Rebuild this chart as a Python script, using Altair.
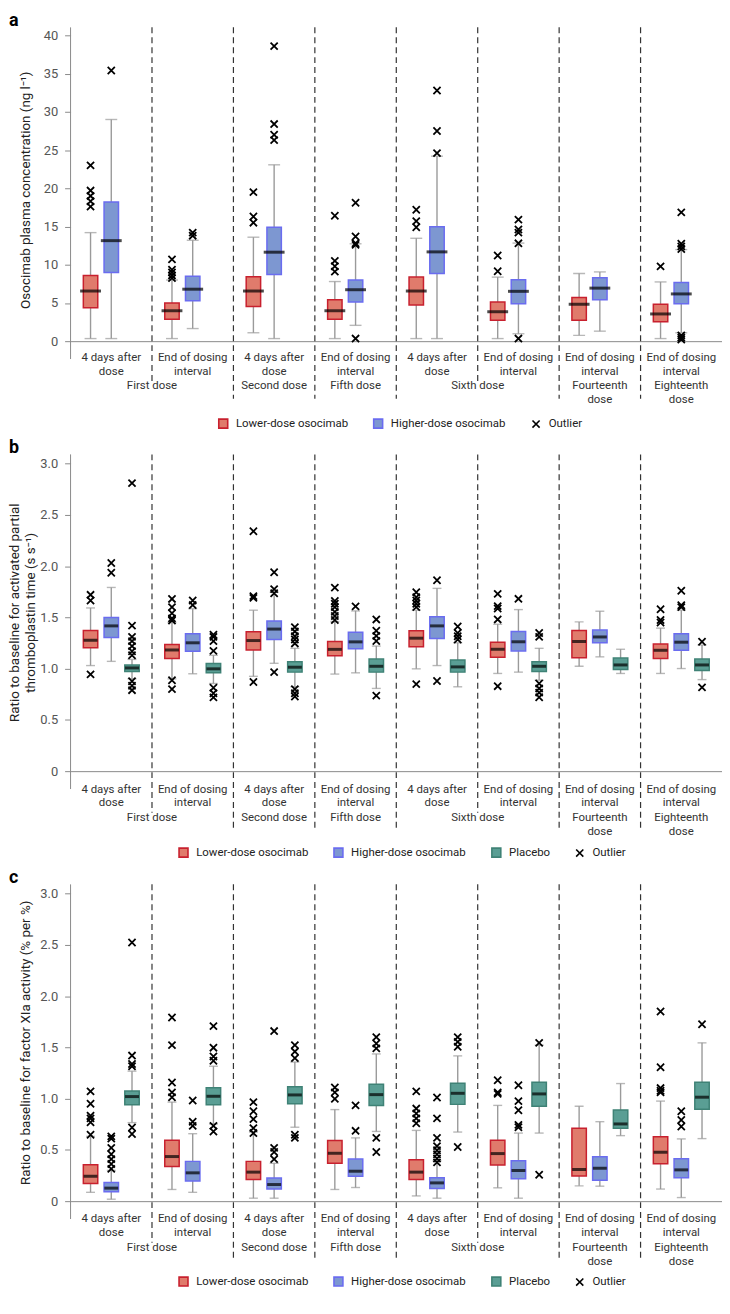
import altair as alt
import pandas as pd

LOW = "Lower-dose osocimab"
HIGH = "Higher-dose osocimab"
PLA = "Placebo"
OUT = "Outlier"

groups = [0, 1, 2, 3, 4, 5, 6, 7]
time_labels = ["4 days after|dose", "End of dosing|interval", "4 days after|dose", "End of dosing|interval",
               "4 days after|dose", "End of dosing|interval", "End of dosing|interval", "End of dosing|interval"]
dose_labels = ["First dose", "Second dose", "Fifth dose", "Sixth dose", "Fourteenth|dose", "Eighteenth|dose"]
dose_first_group = [0, 2, 3, 4, 6, 7]
dose_spans_two = [True, False, False, True, False, False]
sep_within = [1, 5]
sep_between = [2, 3, 4, 6, 7]

title_a = ["Osocimab plasma concentration (ng l\u207b\u00b9)"]
title_b = ["Ratio to baseline for activated partial", "thromboplastin time (s s\u207b\u00b9)"]
title_c = ["Ratio to baseline for factor XIa activity (% per %)"]

# ---------------- Panel a: osocimab plasma concentration ----------------
a_low_lo = [0.34, 0.34, 1.1, 0.34, 0.34, 0.34, 0.76, 0.34]
a_low_q1 = [4.36, 2.88, 4.53, 2.88, 4.74, 2.75, 2.75, 2.54]
a_low_med = [6.56, 3.98, 6.56, 3.98, 6.56, 3.85, 4.83, 3.56]
a_low_q3 = [8.6, 5.0, 8.42, 5.42, 8.38, 5.12, 5.71, 4.83]
a_low_hi = [14.2, 8.0, 13.6, 7.8, 13.46, 8.38, 8.85, 7.75]
a_low_out = [[23.0, 19.7, 19.0, 18.3, 17.6], [10.7, 9.35, 9.0, 8.6, 8.25], [19.5, 16.3, 15.5],
             [16.4, 10.5, 9.8, 9.1], [17.2, 15.7, 14.9], [11.2, 9.14], [], [9.78]]

a_high_lo = [0.34, 1.65, 0.34, 2.07, 0.34, 0.97, 1.31, 1.1]
a_high_q1 = [8.97, 5.3, 8.72, 5.12, 8.85, 4.91, 5.42, 4.91]
a_high_med = [13.15, 6.8, 11.64, 6.73, 11.68, 6.52, 6.94, 6.18]
a_high_q3 = [18.2, 8.5, 14.9, 8.0, 14.98, 8.04, 8.3, 7.66]
a_high_hi = [29.0, 13.2, 23.07, 12.74, 24.2, 12.83, 9.06, 11.98]
a_high_out = [[35.4], [14.2, 13.8], [38.6, 28.4, 27.0, 26.3], [18.1, 13.7, 12.8, 12.6, 0.34],
              [32.8, 27.5, 24.6], [15.9, 14.6, 14.2, 12.8, 0.34], [], [16.85, 12.74, 12.4, 12.06, 0.76, 0.47, 0.21]]

# ---------------- Panel b: aPTT ratio ----------------
b_low_lo = [1.03, 0.90, 0.925, 0.947, 0.998, 0.953, 1.023, 0.953]
b_low_q1 = [1.204, 1.10, 1.182, 1.125, 1.214, 1.112, 1.106, 1.10]
b_low_med = [1.278, 1.182, 1.274, 1.188, 1.297, 1.189, 1.265, 1.179]
b_low_q3 = [1.373, 1.236, 1.36, 1.265, 1.37, 1.258, 1.373, 1.24]
b_low_hi = [1.592, 1.45, 1.57, 1.459, 1.57, 1.433, 1.456, 1.395]
b_low_out = [[1.72, 1.665, 0.944], [1.68, 1.60, 1.54, 1.49, 1.47, 0.887, 0.80], [2.34, 1.707, 1.69, 0.87],
             [1.79, 1.66, 1.633, 1.60, 1.554, 1.513, 1.475], [1.745, 1.697, 1.665, 1.633, 1.60, 0.849],
             [1.729, 1.61, 1.586, 1.48, 0.829], [], [1.579, 1.475, 1.45]]

b_high_lo = [1.071, 0.95, 1.052, 0.959, 1.03, 0.966, 1.115, 1.001]
b_high_q1 = [1.303, 1.17, 1.284, 1.194, 1.293, 1.173, 1.252, 1.179]
b_high_med = [1.417, 1.252, 1.386, 1.261, 1.417, 1.262, 1.309, 1.258]
b_high_q3 = [1.50, 1.341, 1.465, 1.354, 1.506, 1.363, 1.376, 1.341]
b_high_hi = [1.792, 1.585, 1.745, 1.563, 1.783, 1.576, 1.56, 1.57]
b_high_out = [[2.03, 1.935], [1.665, 1.62], [1.94, 1.776, 1.735, 0.966], [1.607], [1.862, 0.88],
              [1.681], [], [1.76, 1.618, 1.60]]

b_pla_lo = [0.90, 0.855, 0.823, 0.807, 0.823, 0.887, 0.953, 0.893]
b_pla_q1 = [0.972, 0.96, 0.966, 0.966, 0.966, 0.972, 0.992, 0.982]
b_pla_med = [1.007, 0.998, 1.014, 1.023, 1.017, 1.023, 1.036, 1.036]
b_pla_q3 = [1.036, 1.049, 1.068, 1.093, 1.084, 1.068, 1.103, 1.093]
b_pla_hi = [1.09, 1.13, 1.198, 1.22, 1.252, 1.198, 1.189, 1.23]
b_pla_out = [[2.81, 1.42, 1.31, 1.268, 1.22, 1.17, 1.13, 0.877, 0.833, 0.79],
             [1.33, 1.31, 1.268, 1.173, 0.814, 0.76, 0.72],
             [1.405, 1.363, 1.316, 1.284, 1.246, 0.80, 0.76, 0.728],
             [1.48, 1.369, 1.32, 1.27, 0.737], [1.411, 1.347, 1.316, 1.284],
             [1.347, 1.31, 0.855, 0.807, 0.766, 0.721], [], [1.262, 0.817]]

# ---------------- Panel c: factor XIa activity ratio ----------------
c_low_lo = [0.086, 0.114, 0.029, 0.114, 0.051, 0.13, 0.149, 0.118]
c_low_q1 = [0.172, 0.337, 0.21, 0.369, 0.21, 0.353, 0.245, 0.365]
c_low_med = [0.242, 0.435, 0.283, 0.467, 0.283, 0.464, 0.308, 0.477]
c_low_q3 = [0.356, 0.594, 0.388, 0.591, 0.404, 0.594, 0.712, 0.629]
c_low_hi = [0.632, 0.966, 0.674, 0.893, 0.69, 0.934, 0.925, 0.976]
c_low_out = [[1.071, 0.95, 0.833, 0.807, 0.769, 0.648], [1.792, 1.522, 1.157, 1.061, 1.014],
             [0.966, 0.877, 0.80, 0.712, 0.664], [1.109, 1.061, 0.998], [1.071, 0.903, 0.855, 0.807, 0.76],
             [1.179, 1.061, 1.046], [], [1.85, 1.306, 1.103, 1.077, 1.061]]

c_high_lo = [0.019, 0.086, 0.029, 0.133, 0.029, 0.029, 0.146, 0.035]
c_high_q1 = [0.092, 0.197, 0.118, 0.242, 0.124, 0.219, 0.203, 0.229]
c_high_med = [0.127, 0.276, 0.162, 0.292, 0.178, 0.299, 0.321, 0.305]
c_high_q3 = [0.181, 0.388, 0.226, 0.41, 0.229, 0.394, 0.432, 0.413]
c_high_hi = [0.30, 0.658, 0.369, 0.617, 0.394, 0.664, 0.775, 0.607]
c_high_out = [[0.632, 0.61, 0.52, 0.458, 0.41, 0.362, 0.315], [0.982, 0.775, 0.734],
              [1.659, 0.52, 0.48, 0.41], [0.934, 0.686],
              [1.011, 0.807, 0.617, 0.537, 0.496, 0.458, 0.416, 0.378],
              [1.131, 0.976, 0.887, 0.744, 0.721], [], [0.877, 0.791, 0.728]]

c_pla_lo = [0.766, 0.753, 0.721, 0.68, 0.674, 0.664, 0.639, 0.61]
c_pla_q1 = [0.941, 0.941, 0.95, 0.934, 0.944, 0.925, 0.712, 0.896]
c_pla_med = [1.02, 1.023, 1.036, 1.039, 1.052, 1.046, 0.753, 1.014]
c_pla_q3 = [1.074, 1.106, 1.115, 1.141, 1.15, 1.16, 0.89, 1.16]
c_pla_hi = [1.268, 1.316, 1.357, 1.436, 1.417, 1.522, 1.147, 1.544]
c_pla_out = [[2.523, 1.42, 1.338, 1.316, 0.718, 0.655], [1.707, 1.497, 1.411, 1.37, 0.734, 0.68],
             [1.522, 1.459, 1.395, 0.648, 0.617], [1.60, 1.538, 1.49, 0.617, 0.48],
             [1.60, 1.554, 1.506, 0.528], [1.544, 0.257], [], [1.726]]

FILL = {LOW: "#e07b6c", HIGH: "#7d97d1", PLA: "#5a9e94", OUT: "black"}
STROKE = {LOW: "#c8202e", HIGH: "#6a6cf0", PLA: "#3f8276", OUT: "black"}
CROSS = "M-0.8,-0.8L0.8,0.8M-0.8,0.8L0.8,-0.8"
PLOT_W = 656


def box_frame(stats):
    rows = []
    for s, (lo, q1, med, q3, hi) in stats.items():
        for g in groups:
            rows.append({"g": g, "series": s, "lo": lo[g], "q1": q1[g], "med": med[g], "q3": q3[g], "hi": hi[g]})
    return pd.DataFrame(rows)


def outlier_frame(outs):
    rows = []
    for s, per_group in outs.items():
        for g, vals in zip(groups, per_group):
            for v in vals:
                rows.append({"g": g, "series": s, "v": v, "lg": OUT})
    return pd.DataFrame(rows)


def panel(letter, stats, outs, ymax, ytick_values, ytitle_lines, title_xs, title_dy, height, decimal_labels,
          box_w, cap_w, off_pi, off_po, legend_x, legend_dy, label_pad, dose_dy, short_ext, long_ext):
    series = list(stats.keys())
    dom = series + [OUT]
    box_df = box_frame(stats)
    out_df = outlier_frame(outs)

    label_arr = "[" + ",".join("'" + t + "'" for t in time_labels) + "]"
    xaxis = alt.Axis(title=None, labelExpr="split(" + label_arr + "[datum.value], '|')",
                     ticks=False, domainColor="#8a8a8a", labelAngle=0, labelFontSize=11.5,
                     labelColor="#333333", labelPadding=label_pad, labelLineHeight=14,
                     labelBaseline="top", labelOverlap=False, grid=False)
    xscale = alt.Scale(type="band", domain=groups, paddingInner=0, paddingOuter=0)

    def X(bp=None):
        if bp is None:
            return alt.X("g:O", scale=xscale, axis=xaxis)
        return alt.X("g:O", scale=xscale, axis=xaxis, bandPosition=bp)

    XO = alt.XOffset("series:N", scale=alt.Scale(domain=series, paddingInner=off_pi, paddingOuter=off_po))
    yscale = alt.Scale(domain=[0, ymax], nice=False, zero=True)
    lbl_expr = "datum.value == 0 ? '0' : format(datum.value, '.1f')" if decimal_labels else "format(datum.value, 'd')"
    yaxis = alt.Axis(values=ytick_values, labelExpr=lbl_expr, title=None, grid=False, domain=False,
                     tickColor="#8a8a8a", tickSize=6, labelColor="#555555", labelFontSize=13,
                     labelPadding=7)

    def Y(field):
        return alt.Y(field, scale=yscale, axis=yaxis)

    leg = alt.Legend(title=None, orient="none", legendX=legend_x, legendY=height + legend_dy,
                     direction="horizontal", symbolSize=81, symbolStrokeWidth=1.6, labelFontSize=11.5,
                     labelColor="#222222", columnPadding=22, labelOffset=7)
    fill_enc = alt.Fill("series:N", scale=alt.Scale(domain=dom, range=[FILL[s] for s in dom]), legend=leg)
    stroke_box = alt.Stroke("series:N", scale=alt.Scale(domain=dom, range=[STROKE[s] for s in dom]), legend=leg)
    stroke_out = alt.Stroke("lg:N", scale=alt.Scale(domain=dom, range=[STROKE[s] for s in dom]), legend=leg)
    shape_out = alt.Shape("lg:N", scale=alt.Scale(domain=dom, range=["square"] * len(series) + [CROSS]), legend=leg)

    one = pd.DataFrame({"k": [0]})
    sep_long_df = pd.DataFrame({"g": sep_between})
    sep_short_df = pd.DataFrame({"g": sep_within})
    dose_df = pd.DataFrame({"g": dose_first_group, "lbl": dose_labels, "two": dose_spans_two})

    sep_long = alt.Chart(sep_long_df).mark_rule(color="#333333", strokeWidth=1.2, strokeDash=[6, 4]).encode(
        x=X(0), y=alt.value(0), y2=alt.value(height + long_ext))
    sep_short = alt.Chart(sep_short_df).mark_rule(color="#333333", strokeWidth=1.2, strokeDash=[6, 4]).encode(
        x=X(0), y=alt.value(0), y2=alt.value(height + short_ext))
    yline = alt.Chart(one).mark_rule(color="#8a8a8a", strokeWidth=1).encode(
        x=alt.value(0), y=alt.value(0), y2=alt.value(height + 18))

    whisk = alt.Chart(box_df).mark_rule(color="#9a9a9a", strokeWidth=1.4).encode(
        x=X(), xOffset=XO, y=Y("lo:Q"), y2="hi:Q")
    cap_lo = alt.Chart(box_df).mark_tick(color="#9a9a9a", thickness=1.4, size=cap_w).encode(
        x=X(), xOffset=XO, y=Y("lo:Q"))
    cap_hi = alt.Chart(box_df).mark_tick(color="#9a9a9a", thickness=1.4, size=cap_w).encode(
        x=X(), xOffset=XO, y=Y("hi:Q"))
    boxes = alt.Chart(box_df).mark_bar(strokeWidth=1.5).encode(
        x=X(), xOffset=XO, y=Y("q1:Q"), y2="q3:Q",
        fill=fill_enc, stroke=stroke_box)
    meds = alt.Chart(box_df).mark_tick(color="black", thickness=3, size=box_w).encode(
        x=X(), xOffset=XO, y=Y("med:Q"))
    outl = alt.Chart(out_df).mark_point(filled=False, size=81, strokeWidth=1.8, opacity=1).encode(
        x=X(), xOffset=XO, y=Y("v:Q"), shape=shape_out, stroke=stroke_out)

    dose_base = alt.Chart(dose_df).transform_calculate(lines="split(datum.lbl, '|')")
    dose_two = dose_base.transform_filter("datum.two").mark_text(
        align="center", baseline="top", fontSize=11.5, color="#333333", lineHeight=14).encode(
        x=X(1), y=alt.value(height + dose_dy), text="lines:N")
    dose_one = dose_base.transform_filter("!datum.two").mark_text(
        align="center", baseline="top", fontSize=11.5, color="#333333", lineHeight=14).encode(
        x=X(0.5), y=alt.value(height + dose_dy), text="lines:N")
    letter_mark = alt.Chart(one).mark_text(text=letter, fontSize=18, fontWeight="bold", align="left",
                                          baseline="top", color="black").encode(
        x=alt.value(-62), y=alt.value(-15))

    title_marks = []
    for line, tx in zip(ytitle_lines, title_xs):
        title_marks.append(alt.Chart(one).mark_text(text=line, angle=270, fontSize=13.5, color="#222222",
                                                   align="center", baseline="middle").encode(
            x=alt.value(tx), y=alt.value(height / 2 + title_dy)))

    return alt.layer(sep_long, sep_short, yline, whisk, cap_lo, cap_hi, boxes, meds, outl,
                     dose_two, dose_one, letter_mark, *title_marks).properties(width=PLOT_W, height=height)


pa = panel("a",
           {LOW: (a_low_lo, a_low_q1, a_low_med, a_low_q3, a_low_hi),
            HIGH: (a_high_lo, a_high_q1, a_high_med, a_high_q3, a_high_hi)},
           {LOW: a_low_out, HIGH: a_high_out},
           41.05, [0, 5, 10, 15, 20, 25, 30, 35, 40], title_a, [-45], 6,
           316, False, 21, 12, 0.304, 0.616, 148, 77, 10.5, 39.5, 40, 58)
pb = panel("b",
           {LOW: (b_low_lo, b_low_q1, b_low_med, b_low_q3, b_low_hi),
            HIGH: (b_high_lo, b_high_q1, b_high_med, b_high_q3, b_high_hi),
            PLA: (b_pla_lo, b_pla_q1, b_pla_med, b_pla_q3, b_pla_hi)},
           {LOW: b_low_out, HIGH: b_high_out, PLA: b_pla_out},
           3.09, [0, 0.5, 1.0, 1.5, 2.0, 2.5, 3.0], title_b, [-56, -40], 0,
           319, True, 14, 9, 0.405, 0.655, 108, 76, 12, 41.5, 42, 60)
pc = panel("c",
           {LOW: (c_low_lo, c_low_q1, c_low_med, c_low_q3, c_low_hi),
            HIGH: (c_high_lo, c_high_q1, c_high_med, c_high_q3, c_high_hi),
            PLA: (c_pla_lo, c_pla_q1, c_pla_med, c_pla_q3, c_pla_hi)},
           {LOW: c_low_out, HIGH: c_high_out, PLA: c_pla_out},
           3.09, [0, 0.5, 1.0, 1.5, 2.0, 2.5, 3.0], title_c, [-45], 0,
           319, True, 14, 9, 0.405, 0.655, 108, 75, 12, 41.5, 42, 60)

chart = alt.vconcat(pa, pb, pc, spacing=114, bounds="flush").resolve_scale(
    fill="independent", stroke="independent", shape="independent").resolve_legend(
    fill="independent", stroke="independent", shape="independent").properties(padding=0).configure(
    font="Roboto").configure_view(stroke=None)

chart.save("out.html", embed_options={"renderer": "svg", "actions": False})
